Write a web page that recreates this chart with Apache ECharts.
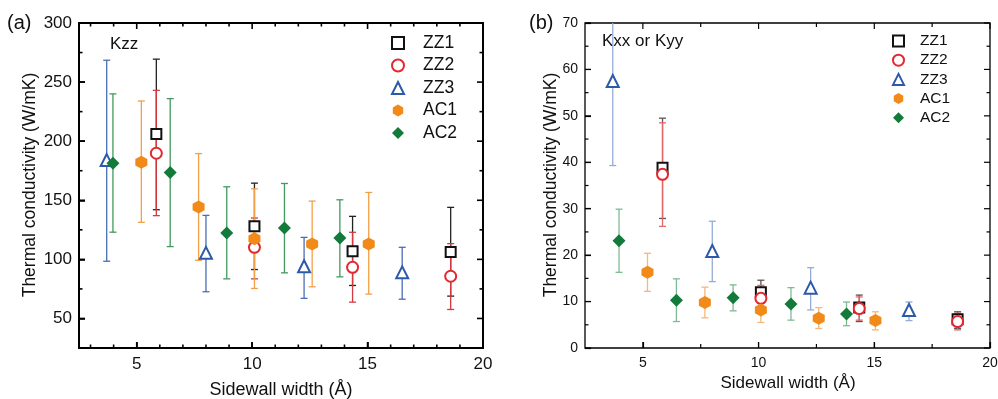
<!DOCTYPE html>
<html>
<head>
<meta charset="utf-8">
<script src="https://cdn.jsdelivr.net/npm/echarts@6/dist/echarts.min.js"></script>
<style>
html, body { margin: 0; padding: 0; background: #fff; }
#chart { width: 998px; height: 399px; }
</style>
</head>
<body>
<div id="chart"></div>
<script>
// sidewall width (Å) of each structure
var zzX  = [5.85, 10.1, 14.35, 18.6];
var zz3X = [3.7, 8.0, 12.25, 16.5];
var ac1X = [5.2, 7.68, 10.1, 12.6, 15.05];
var ac2X = [3.97, 6.45, 8.9, 11.4, 13.8];

// (a) Kzz : value, upper and lower end of error bar
var kzzZZ1 = [206, 128, 106.8, 106.3];
var kzzZZ1Hi = [269.4, 164.5, 136.4, 144];
var kzzZZ1Lo = [142, 91.4, 77.9, 68.9];
var kzzZZ2 = [189.8, 110.2, 93.3, 85.7];
var kzzZZ2Hi = [243, 135, 122.9, 113.3];
var kzzZZ2Lo = [137, 83.5, 63.8, 57.6];
var kzzZZ3 = [184, 105.5, 94.2, 89];
var kzzZZ3Hi = [268.5, 137.2, 118.6, 110.2];
var kzzZZ3Lo = [98.4, 72.6, 67, 66.3];
var kzzAC1 = [182.2, 144.3, 117.5, 113, 113];
var kzzAC1Hi = [234, 189.5, 159.7, 149.3, 156.6];
var kzzAC1Lo = [131.3, 99.2, 75.4, 76.8, 70.6];
var kzzAC2 = [181.4, 173.5, 122.3, 126.6, 118.1];
var kzzAC2Hi = [240, 236, 161.4, 164.2, 150.4];
var kzzAC2Lo = [123, 110.8, 83.5, 88.6, 85.2];

// (b) Kxx or Kyy
var kxxZZ1 = [38.8, 12.0, 8.75, 6.2];
var kxxZZ1Hi = [49.5, 14.6, 11.4, 7.8];
var kxxZZ1Lo = [27.9, 9.6, 5.7, 4.2];
var kxxZZ2 = [37.4, 10.7, 8.5, 5.7];
var kxxZZ2Hi = [48.5, 13.5, 11.0, 7.5];
var kxxZZ2Lo = [26.2, 8.0, 6.0, 3.9];
var kxxZZ3 = [57.5, 20.9, 13.0, 8.2];
var kxxZZ3Hi = [76, 27.3, 17.3, 9.9];
var kxxZZ3Lo = [39.3, 14.3, 8.2, 5.9];
var kxxAC1 = [16.3, 9.8, 8.2, 6.4, 5.9];
var kxxAC1Hi = [20.4, 13.1, 10.8, 8.7, 7.8];
var kxxAC1Lo = [12.2, 6.5, 5.5, 4.2, 3.9];
var kxxAC2 = [23.1, 10.3, 10.8, 9.5, 7.3];
var kxxAC2Hi = [29.9, 14.9, 13.6, 13.0, 9.9];
var kxxAC2Lo = [16.3, 5.7, 8.0, 6.0, 4.8];

// axis ranges and tick values
var xRange = [2.5, 20];
var yRangeA = [25, 300];
var yRangeB = [0, 70];
var xMajor = [5, 10, 15, 20];
var xMinorA = [3, 4, 6, 7, 8, 9, 11, 12, 13, 14, 16, 17, 18, 19];
var xMinorB = [7.5, 12.5, 17.5];
var yMajorA = [50, 100, 150, 200, 250, 300];
var yMinorA = [75, 125, 175, 225, 275];
var yMajorB = [0, 10, 20, 30, 40, 50, 60, 70];
var yMinorB = [5, 15, 25, 35, 45, 55, 65];

var names = ['ZZ1', 'ZZ2', 'ZZ3', 'AC1', 'AC2'];
var FONT = "'Liberation Sans', Arial, Helvetica, sans-serif";
var HEX = 'path://M0,-1L0.866,-0.5L0.866,0.5L0,1L-0.866,0.5L-0.866,-0.5Z';

function makeX(grid, major, size, lw) {
  return {
    type: 'value', gridIndex: grid, position: 'bottom', min: xRange[0], max: xRange[1],
    splitLine: { show: false }, axisLine: { show: false },
    axisTick: { show: true, inside: true, length: 6, customValues: major, lineStyle: { color: '#000', width: lw } },
    axisLabel: { customValues: major, margin: 8, fontSize: size, color: '#111', fontFamily: FONT }
  };
}
function makeY(grid, range, major, size, lw) {
  return {
    type: 'value', gridIndex: grid, position: 'left', min: range[0], max: range[1],
    splitLine: { show: false }, axisLine: { show: false },
    axisTick: { show: true, inside: true, length: 6, customValues: major, lineStyle: { color: '#000', width: lw } },
    axisLabel: { customValues: major, margin: 7, fontSize: size, color: '#111', fontFamily: FONT }
  };
}

function errorBar(color, cap, lw) {
  return function (params, api) {
    var x = api.value(0);
    var lo = api.coord([x, api.value(1)]);
    var hi = api.coord([x, api.value(2)]);
    var h = cap / 2;
    var st = { stroke: color, lineWidth: lw };
    return {
      type: 'group',
      children: [
        { type: 'line', shape: { x1: lo[0], y1: lo[1], x2: hi[0], y2: hi[1] }, style: st },
        { type: 'line', shape: { x1: lo[0] - h, y1: lo[1], x2: lo[0] + h, y2: lo[1] }, style: st },
        { type: 'line', shape: { x1: hi[0] - h, y1: hi[1], x2: hi[0] + h, y2: hi[1] }, style: st }
      ]
    };
  };
}

var panels = [
  { idx: 0, bar: ['#222', '#d33a3f', '#4a6db5', '#f2a048', '#43995f'],
    vals: [kzzZZ1, kzzZZ2, kzzZZ3, kzzAC1, kzzAC2],
    his: [kzzZZ1Hi, kzzZZ2Hi, kzzZZ3Hi, kzzAC1Hi, kzzAC2Hi],
    los: [kzzZZ1Lo, kzzZZ2Lo, kzzZZ3Lo, kzzAC1Lo, kzzAC2Lo], bw: 2 },
  { idx: 1, bar: ['#555', '#e06a6a', '#93acd6', '#f5b77a', '#7dbb96'],
    vals: [kxxZZ1, kxxZZ2, kxxZZ3, kxxAC1, kxxAC2],
    his: [kxxZZ1Hi, kxxZZ2Hi, kxxZZ3Hi, kxxAC1Hi, kxxAC2Hi],
    los: [kxxZZ1Lo, kxxZZ2Lo, kxxZZ3Lo, kxxAC1Lo, kxxAC2Lo], bw: 1.8 }
];
var looks = [
  { x: zzX,  sym: 'emptyRect',     size: 10, color: '#111111' },
  { x: zzX,  sym: 'emptyCircle',   size: 11, color: '#e3282f' },
  { x: zz3X, sym: 'emptyTriangle', size: 12, color: '#2d59a9' },
  { x: ac1X, sym: HEX,             size: [12, 13], color: '#f28a1a' },
  { x: ac2X, sym: 'diamond',       size: 13, color: '#137b3a' }
];

var series = [];
panels.forEach(function (p) {
  looks.forEach(function (l, i) {
    var bars = l.x.map(function (x, j) { return [x, p.los[i][j], p.his[i][j]]; });
    series.push({
      type: 'custom', name: names[i] + ' err', xAxisIndex: p.idx, yAxisIndex: p.idx,
      renderItem: errorBar(p.bar[i], 7, 1.3), data: bars, clip: true, z: 2,
      encode: { x: 0, y: [1, 2] }, silent: true
    });
  });
  looks.forEach(function (l, i) {
    var pts = l.x.map(function (x, j) { return [x, p.vals[i][j]]; });
    series.push({
      type: 'scatter', name: names[i], xAxisIndex: p.idx, yAxisIndex: p.idx,
      symbol: l.sym, symbolSize: l.size, data: pts, z: 3,
      itemStyle: { color: l.color, borderColor: l.color, borderWidth: l.sym.indexOf('empty') === 0 ? p.bw : 0, opacity: 1 }
    });
  });
});

function label(txt, x, y, size, rot) {
  return { type: 'text', x: x, y: y, rotation: rot || 0, silent: true,
    style: { text: txt, fontSize: size, fill: '#111', fontFamily: FONT, align: 'center', verticalAlign: 'middle' } };
}

var texts = [
  { type: 'text', left: 7, top: 13, style: { text: '(a)', fontSize: 20, fill: '#111', fontFamily: FONT } },
  { type: 'text', left: 529, top: 13, style: { text: '(b)', fontSize: 20, fill: '#111', fontFamily: FONT } },
  { type: 'text', left: 110, top: 36, style: { text: 'Kzz', fontSize: 17, fill: '#111', fontFamily: FONT } },
  { type: 'text', left: 602, top: 33, style: { text: 'Kxx or Kyy', fontSize: 17, fill: '#111', fontFamily: FONT } },
  label('Sidewall width (Å)', 281, 390, 18),
  label('Sidewall width (Å)', 788, 383, 17),
  label('Thermal conductivity (W/mK)', 30, 185, 17.5, Math.PI / 2),
  label('Thermal conductivity (W/mK)', 551, 185, 17.5, Math.PI / 2)
];

var chart = echarts.init(document.getElementById('chart'), null, { renderer: 'canvas' });
chart.setOption({
  animation: false,
  grid: [
    { left: 79, top: 23, width: 404, height: 325, show: true, borderColor: '#000', borderWidth: 2,
      containLabel: false, outerBoundsMode: 'none' },
    { left: 585, top: 23, width: 405, height: 325, show: true, borderColor: '#000', borderWidth: 1.3,
      containLabel: false, outerBoundsMode: 'none' }
  ],
  xAxis: [makeX(0, xMajor, 17, 1.6), makeX(1, xMajor, 14, 1.2)],
  yAxis: [makeY(0, yRangeA, yMajorA, 17, 1.6), makeY(1, yRangeB, yMajorB, 14, 1.2)],
  legend: [
    { data: names, orient: 'vertical', left: 386, top: 29, itemWidth: 12, itemHeight: 12,
      itemGap: 4.5, selectedMode: false,
      textStyle: { fontSize: 17.5, color: '#111', fontFamily: FONT, padding: [0, 0, 0, 14] } },
    { data: names, orient: 'vertical', left: 887, top: 28, itemWidth: 11, itemHeight: 11,
      itemGap: 3.2, selectedMode: false,
      textStyle: { fontSize: 15.5, color: '#111', fontFamily: FONT, padding: [0, 0, 0, 11] } }
  ],
  graphic: texts,
  series: series
});

// inward ticks on all four sides of each box, positioned through the axis scales
var tickLines = [];
function addTicks(grid, dim, vals, range, len, lw) {
  var finder = { xAxisIndex: grid, yAxisIndex: grid };
  vals.forEach(function (v) {
    var p1, p2, a, b;
    if (dim === 'x') {
      p1 = chart.convertToPixel(finder, [v, range[0]]);
      p2 = chart.convertToPixel(finder, [v, range[1]]);
      a = { x1: p1[0], y1: p1[1], x2: p1[0], y2: p1[1] - len };
      b = { x1: p2[0], y1: p2[1], x2: p2[0], y2: p2[1] + len };
    } else {
      p1 = chart.convertToPixel(finder, [range[0], v]);
      p2 = chart.convertToPixel(finder, [range[1], v]);
      a = { x1: p1[0], y1: p1[1], x2: p1[0] + len, y2: p1[1] };
      b = { x1: p2[0], y1: p2[1], x2: p2[0] - len, y2: p2[1] };
    }
    [a, b].forEach(function (s) {
      tickLines.push({ type: 'line', shape: s, silent: true, z: 100,
        style: { stroke: '#000', lineWidth: lw } });
    });
  });
}
addTicks(0, 'x', xMajor, yRangeA, 6, 1.6);
addTicks(0, 'x', xMinorA, yRangeA, 3.5, 1.6);
addTicks(0, 'y', yMajorA, xRange, 6, 1.6);
addTicks(0, 'y', yMinorA, xRange, 3.5, 1.6);
addTicks(1, 'x', xMajor, yRangeB, 6, 1.2);
addTicks(1, 'x', xMinorB, yRangeB, 4, 1.2);
addTicks(1, 'y', yMajorB, xRange, 6, 1.2);
addTicks(1, 'y', yMinorB, xRange, 3.5, 1.2);

chart.setOption({ graphic: texts.concat(tickLines) });
</script>
</body>
</html>
